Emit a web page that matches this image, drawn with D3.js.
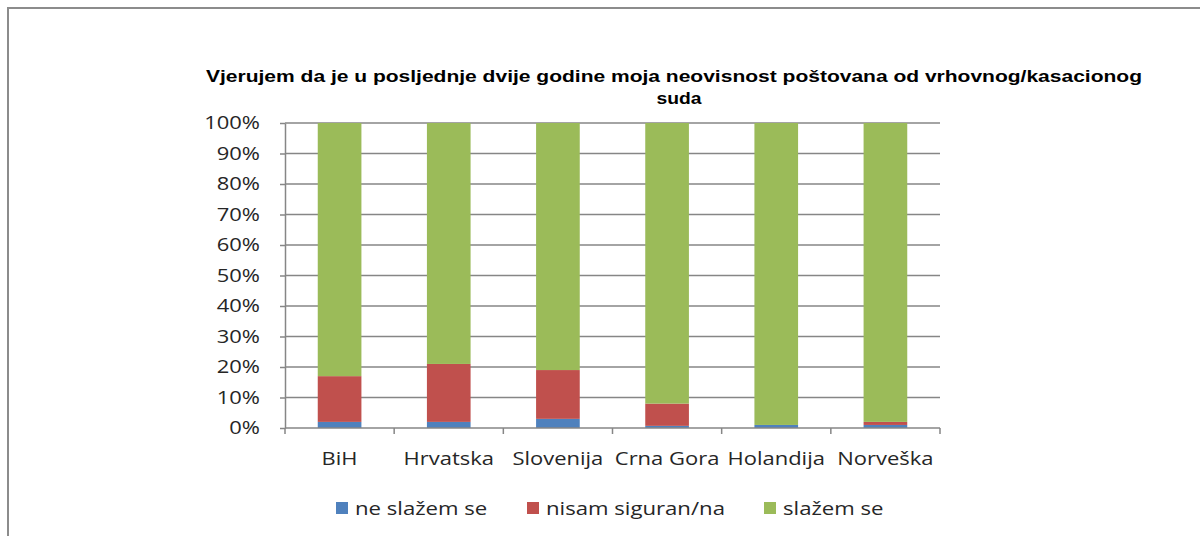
<!DOCTYPE html>
<html>
<head>
<meta charset="utf-8">
<script src="https://cdn.jsdelivr.net/npm/d3@7"></script>
<style>
body { margin: 0; background: #fff; }
svg { display: block; }
</style>
</head>
<body>
<div id="chart"></div>
<script>
// data
const categories = ['BiH', 'Hrvatska', 'Slovenija', 'Crna Gora', 'Holandija', 'Norveška'];
const seriesNames = ['ne slažem se', 'nisam siguran/na', 'slažem se'];
const neSlazem = [2, 2, 3, 0.7, 1, 1];
const nisamSiguran = [15, 19, 16, 7.3, 0, 1];
const slazem = [83, 79, 81, 92, 99, 98];
const yTicks = [0, 10, 20, 30, 40, 50, 60, 70, 80, 90, 100];
const colors = ['#4F81BD', '#C0504D', '#9BBB59'];

const W = 1200, H = 536;
const labelFont = 'Open Sans, sans-serif';
const svg = d3.select('#chart').append('svg')
  .attr('width', W).attr('height', H);

// the source picture is stretched sideways, so widen text to match
function stretch(sel, k) {
  sel.each(function () {
    const len = this.getComputedTextLength();
    d3.select(this).attr('textLength', len * k).attr('lengthAdjust', 'spacingAndGlyphs');
  });
}

// outer frame
svg.append('rect')
  .attr('x', 8).attr('y', 8)
  .attr('width', W + 20).attr('height', H + 20)
  .attr('fill', '#fff')
  .attr('stroke', '#8c8c8c')
  .attr('stroke-width', 2);

// title
svg.append('text')
  .attr('x', 674).attr('y', 82)
  .attr('text-anchor', 'middle')
  .attr('font-family', 'Liberation Sans, Arial, sans-serif')
  .attr('font-weight', 'bold')
  .attr('font-size', 16)
  .attr('textLength', 936)
  .attr('lengthAdjust', 'spacingAndGlyphs')
  .text('Vjerujem da je u posljednje  dvije godine moja neovisnost poštovana od vrhovnog/kasacionog');
svg.append('text')
  .attr('x', 679).attr('y', 104)
  .attr('text-anchor', 'middle')
  .attr('font-family', 'Liberation Sans, Arial, sans-serif')
  .attr('font-weight', 'bold')
  .attr('font-size', 16)
  .attr('textLength', 45)
  .attr('lengthAdjust', 'spacingAndGlyphs')
  .text('suda');

const plotL = 285, plotR = 940, plotT = 123, plotB = 428;

const x = d3.scaleBand().domain(categories).range([plotL, plotR]).paddingInner(0.6).paddingOuter(0.3);
const y = d3.scaleLinear().domain([0, 100]).range([plotB, plotT]);

// gridlines
svg.append('g')
  .selectAll('line')
  .data(yTicks.filter(d => d > 0))
  .join('line')
  .attr('x1', plotL).attr('x2', plotR)
  .attr('y1', d => y(d)).attr('y2', d => y(d))
  .attr('stroke', '#868686')
  .attr('stroke-width', 1.5);

// stacked bars
const rows = categories.map((c, i) => ({ cat: c, a: neSlazem[i], b: nisamSiguran[i], c: slazem[i] }));
const stack = d3.stack().keys(['a', 'b', 'c'])(rows);

svg.append('g')
  .selectAll('g')
  .data(stack)
  .join('g')
  .attr('fill', (d, i) => colors[i])
  .selectAll('rect')
  .data(d => d)
  .join('rect')
  .attr('x', d => x(d.data.cat))
  .attr('width', x.bandwidth())
  .attr('y', d => y(d[1]))
  .attr('height', d => y(d[0]) - y(d[1]));

// y axis
const yAxis = svg.append('g')
  .attr('transform', `translate(${plotL},0)`)
  .call(d3.axisLeft(y).tickValues(yTicks).tickFormat(d => d + '%').tickSize(5).tickSizeOuter(0));
yAxis.select('.domain').attr('stroke', '#868686').attr('stroke-width', 1.5);
yAxis.selectAll('.tick line').attr('stroke', '#868686').attr('stroke-width', 1.5);
yAxis.selectAll('.tick text')
  .attr('x', -25)
  .attr('font-family', labelFont)
  .attr('font-size', 18)
  .attr('fill', '#262626')
  .call(stretch, 1.22);

// x axis
const bands = d3.range(categories.length + 1).map(i => plotL + i * (plotR - plotL) / categories.length);
svg.append('line')
  .attr('x1', plotL).attr('x2', plotR)
  .attr('y1', plotB).attr('y2', plotB)
  .attr('stroke', '#868686').attr('stroke-width', 1.5);
svg.append('g')
  .selectAll('line')
  .data(bands)
  .join('line')
  .attr('x1', d => d).attr('x2', d => d)
  .attr('y1', plotB).attr('y2', plotB + 6)
  .attr('stroke', '#868686').attr('stroke-width', 1.5);
svg.append('g')
  .selectAll('text')
  .data(categories)
  .join('text')
  .attr('x', d => x(d) + x.bandwidth() / 2)
  .attr('y', 465)
  .attr('text-anchor', 'middle')
  .attr('font-family', labelFont)
  .attr('font-size', 18)
  .attr('fill', '#262626')
  .text(d => d)
  .call(stretch, 1.22);

// legend
const legendX = [336, 527, 764];
const lg = svg.append('g')
  .selectAll('g')
  .data(seriesNames)
  .join('g')
  .attr('transform', (d, i) => `translate(${legendX[i]},502)`);
lg.append('rect')
  .attr('width', 12).attr('height', 12)
  .attr('fill', (d, i) => colors[i]);
lg.append('text')
  .attr('x', 19).attr('y', 13)
  .attr('font-family', labelFont)
  .attr('font-size', 18)
  .attr('fill', '#262626')
  .text(d => d)
  .call(stretch, 1.23);
</script>
</body>
</html>
